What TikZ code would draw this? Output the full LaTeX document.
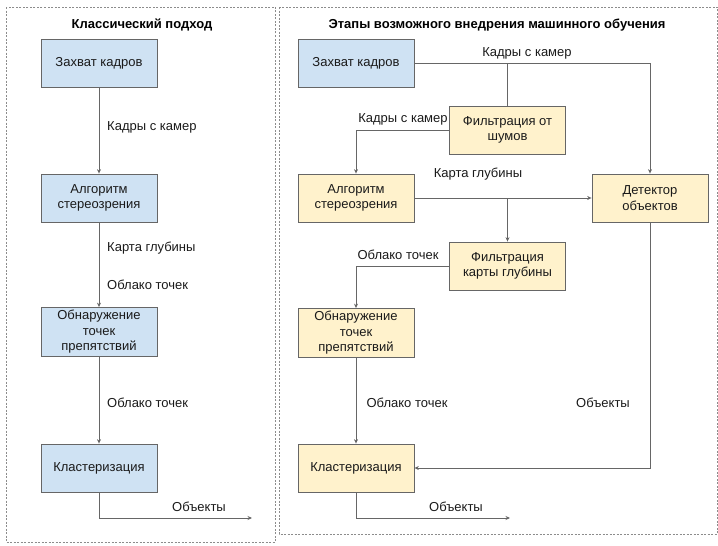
\documentclass[tikz,border=0pt]{standalone}
\usepackage{fontspec}
\setmainfont{Liberation Sans}
\usetikzlibrary{arrows.meta,calc}
\definecolor{boxblue}{HTML}{CFE2F3}
\definecolor{boxyellow}{HTML}{FFF2CC}
\definecolor{edgegray}{HTML}{666666}
\definecolor{framegray}{HTML}{8C8C8C}
\definecolor{textgray}{HTML}{1A1A1A}

\begin{document}
\begin{tikzpicture}[x=1pt,y=-1pt,
  font=\fontsize{13}{15.5}\selectfont, text=textgray,
  stage/.style={draw=edgegray,line width=0.8pt,minimum width=116pt,minimum height=48pt,align=center,inner sep=1pt},
  classic/.style={stage,fill=boxblue},
  ml/.style={stage,fill=boxyellow},
  flow/.style={draw=edgegray,line width=0.7pt,-{Stealth[length=4.5pt,width=4pt]}},
  link/.style={draw=edgegray,line width=0.7pt},
  frame/.style={draw=framegray,line width=0.8pt,dash pattern=on 2pt off 1.5pt},
  lbl/.style={inner sep=0pt},
  heading/.style={inner sep=0pt,font=\fontsize{13}{15}\selectfont\bfseries,text=black}]
			\useasboundingbox (0,0) rectangle (718,546);
			\draw[frame] (6,7) rectangle (275,542);
			\draw[frame] (279,7) rectangle (717,534);
			\node[heading] (ltitle) at (142,25) {Классический подход};
			\node[heading] (rtitle) at (497,25) {Этапы возможного внедрения машинного обучения};

			\node[classic] (lgrab) at (99,63) {Захват кадров};
			\node[classic] (lstereo) at (99,198) {Алгоритм\\стереозрения};
			\node[classic,minimum height=49pt] (lobst) at (99,332) {Обнаружение\\точек\\препятствий};
			\node[classic] (lclust) at (99,468) {Кластеризация};
			\coordinate (lout) at (252,518);
			\draw[flow] (lgrab) -- (lstereo);
			\draw[flow] (lstereo) -- (lobst);
			\draw[flow] (lobst) -- (lclust);
			\draw[flow] (lclust.south) |- (lout);
			\node[lbl,anchor=west] at (107,127) {Кадры с камер};
			\node[lbl,anchor=west] at (107,248) {Карта глубины};
			\node[lbl,anchor=west] at (107,285) {Облако точек};
			\node[lbl,anchor=west] at (107,403) {Облако точек};
			\node[lbl] at (199,507) {Объекты};

			\node[classic] (rgrab) at (356,63) {Захват кадров};
			\node[ml] (rfilt) at (507.5,130) {Фильтрация от\\шумов};
			\node[ml] (rstereo) at (356,198) {Алгоритм\\стереозрения};
			\node[ml] (rdet) at (650,198) {Детектор\\объектов};
			\node[ml] (rdepth) at (507.5,266) {Фильтрация\\карты глубины};
			\node[ml,minimum height=49pt] (robst) at (356,333) {Обнаружение\\точек\\препятствий};
			\node[ml] (rclust) at (356,468) {Кластеризация};
			\coordinate (rout) at (510,518);
			\draw[flow] (rgrab.east) -| (rdet.north);
			\draw[link] (rgrab.east -| rfilt.north) -- (rfilt.north);
			\draw[flow] (rfilt.west) -| (rstereo.north);
			\draw[flow] (rstereo.east) -- (rdet.west);
			\draw[flow] (rstereo.east -| rdepth.north) -- (rdepth.north);
			\draw[flow] (rdepth.west) -| (robst.north);
			\draw[flow] (robst) -- (rclust);
			\draw[flow] (rdet.south) |- (rclust.east);
			\draw[flow] (rclust.south) |- (rout);
			\node[lbl] at (527,53) {Кадры с камер};
			\node[lbl] at (403,119) {Кадры с камер};
			\node[lbl] at (478,174) {Карта глубины};
			\node[lbl] at (398,255) {Облако точек};
			\node[lbl] at (407,403) {Облако точек};
			\node[lbl] at (603,403) {Объекты};
			\node[lbl] at (456,507) {Объекты};
		\end{tikzpicture}
\end{document}
